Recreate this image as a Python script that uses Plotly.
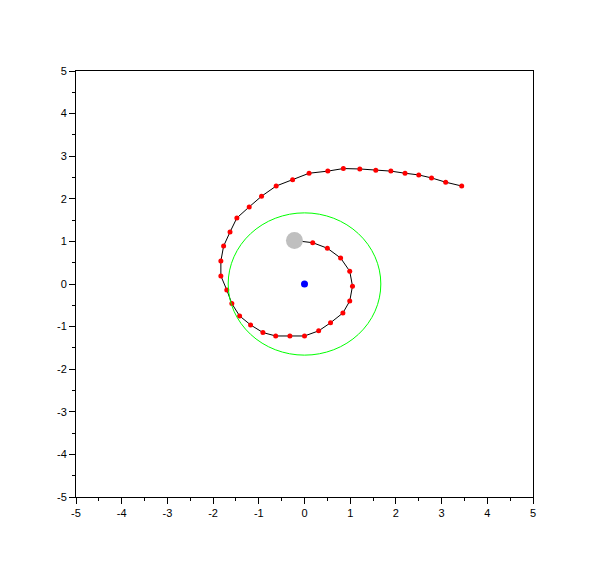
import plotly.graph_objects as go

# Spiral trajectory (start point first)
traj_x = [-0.22, 0.18, 0.50, 0.79, 0.99, 1.05, 0.99, 0.84, 0.57, 0.31, 0.00, -0.32, -0.63, -0.91,
          -1.18, -1.42, -1.59, -1.70, -1.83, -1.83, -1.77, -1.63, -1.48, -1.21, -0.94, -0.62,
          -0.26, 0.10, 0.51, 0.85, 1.21, 1.56, 1.89, 2.20, 2.50, 2.78, 3.09, 3.44]
traj_y = [1.02, 0.97, 0.84, 0.61, 0.30, -0.05, -0.40, -0.68, -0.91, -1.10, -1.22, -1.22, -1.22, -1.14,
          -0.96, -0.75, -0.46, -0.14, 0.19, 0.54, 0.89, 1.22, 1.55, 1.81, 2.06, 2.30,
          2.45, 2.60, 2.65, 2.71, 2.70, 2.67, 2.65, 2.60, 2.56, 2.49, 2.39, 2.30]

start_x = [-0.22]
start_y = [1.02]
center_x = [0.0]
center_y = [0.0]
circle_radius = 1.67

tick_vals = [-5, -4, -3, -2, -1, 0, 1, 2, 3, 4, 5]
tick_text = [str(v) for v in tick_vals]

fig = go.Figure()
fig.add_shape(type="circle", xref="x", yref="y",
              x0=center_x[0] - circle_radius, x1=center_x[0] + circle_radius,
              y0=center_y[0] - circle_radius, y1=center_y[0] + circle_radius,
              line=dict(color="#00ff00", width=1), layer="above")
fig.add_trace(go.Scatter(x=traj_x, y=traj_y, mode="lines",
                         line=dict(color="black", width=1), hoverinfo="skip"))
fig.add_trace(go.Scatter(x=traj_x[1:], y=traj_y[1:], mode="markers",
                         marker=dict(color="red", size=5)))
fig.add_trace(go.Scatter(x=start_x, y=start_y, mode="markers",
                         marker=dict(color="#bfbfbf", size=17)))
fig.add_trace(go.Scatter(x=center_x, y=center_y, mode="markers",
                         marker=dict(color="blue", size=7)))

axis_common = dict(
    range=[-5, 5], tickvals=tick_vals, ticktext=tick_text,
    ticks="outside", ticklen=6, tickwidth=1, tickcolor="black",
    minor=dict(ticks="outside", ticklen=3, dtick=0.5, tickcolor="black", showgrid=False),
    showline=True, linecolor="black", linewidth=1, mirror=True,
    showgrid=False, zeroline=False,
    tickfont=dict(family="Liberation Sans, Arial, sans-serif", size=11, color="black"),
)
fig.update_layout(
    width=610, height=568,
    margin=dict(l=68, r=85, t=63, b=79),
    paper_bgcolor="white", plot_bgcolor="white",
    showlegend=False,
    xaxis=axis_common,
    yaxis=axis_common,
)
fig.write_html("out.html")
